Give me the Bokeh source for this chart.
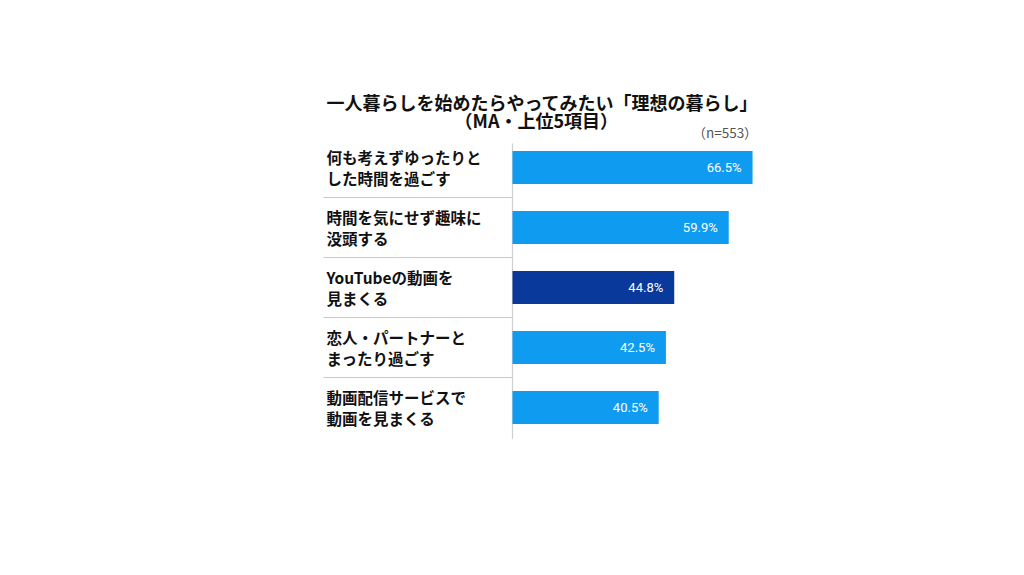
from bokeh.plotting import figure
from bokeh.models import ColumnDataSource, Range1d
from bokeh.core.properties import value
from bokeh.embed import file_html
from bokeh.resources import INLINE

title_line1 = "一人暮らしを始めたらやってみたい「理想の暮らし」"
title_line2 = "（MA・上位5項目）"
sample_note = "（n=553）"
categories = [
    "何も考えずゆったりと\nした時間を過ごす",
    "時間を気にせず趣味に\n没頭する",
    "YouTubeの動画を\n見まくる",
    "恋人・パートナーと\nまったり過ごす",
    "動画配信サービスで\n動画を見まくる",
]
values = [66.5, 59.9, 44.8, 42.5, 40.5]
highlight = [False, False, True, False, False]

LIGHT = "#0f9cf0"
DARK = "#0a399c"
FONT = "Noto Sans CJK JP"

W, H = 1008, 559
PX_PER_UNIT = 3.61
ROW_PX = 60
x0_px = 512          # figure px where value 0 sits
row0_px = 167        # figure px of first row center

x_start = -x0_px / PX_PER_UNIT
x_end = (W - x0_px) / PX_PER_UNIT
y_top = -row0_px / ROW_PX
y_bottom = (H - row0_px) / ROW_PX

rows = list(range(len(categories)))
src = ColumnDataSource(dict(
    y=rows,
    v=values,
    cat=categories,
    color=[DARK if h else LIGHT for h in highlight],
    pct=[f"{v:.1f}%" for v in values],
    zero=[0] * len(values),
))

p = figure(width=W, height=H, output_backend="svg", toolbar_location=None,
           x_range=Range1d(x_start, x_end), y_range=Range1d(y_bottom, y_top),
           x_axis_type=None, y_axis_type=None, min_border=0,
           outline_line_color=None, background_fill_color="white",
           border_fill_color="white")
p.xgrid.visible = False
p.ygrid.visible = False

# separators between category rows
sep_y = [r + 0.5 for r in rows[:-1]]
sep = p.segment(x0=[0] * len(sep_y), x1=[0] * len(sep_y), y0=sep_y, y1=sep_y,
                line_color="#c9c9c9", line_width=1.2)
sep.glyph.x0 = -52.4  # left end of separator lines
# axis line at zero
p.segment(x0=[0], x1=[0], y0=[-0.4], y1=[len(rows) - 0.48],
          line_color="#cfcfcf", line_width=1.2)

p.hbar(y="y", left=0, right="v", height=0.55, fill_color="color",
       line_color=None, source=src)

p.text(x="v", y="y", text="pct", source=src, x_offset=-11,
       text_align="right", text_baseline="middle", text_color="white",
       text_font=value("Roboto"), text_font_size="13px")

p.text(x="zero", y="y", text="cat", source=src, x_offset=-186,
       text_align="left", text_baseline="middle", text_color="#111111",
       text_font=value(FONT), text_font_style="bold", text_font_size="15.5px",
       text_line_height=0.98)

p.text(x=[8.3], y=[-1.1], text=[title_line1], text_align="center",
       text_baseline="middle", text_color="#111111", text_font=value(FONT),
       text_font_style="bold", text_font_size="18px")
p.text(x=[6.6], y=[-0.8], text=[title_line2], text_align="center",
       text_baseline="middle", text_color="#111111", text_font=value(FONT),
       text_font_style="bold", text_font_size="18px")
p.text(x=[67.9], y=[-0.6], text=[sample_note], text_align="right",
       text_baseline="middle", text_color="#555555", text_font=value(FONT),
       text_font_size="13.5px")

open("out.html", "w").write(file_html(p, INLINE))
